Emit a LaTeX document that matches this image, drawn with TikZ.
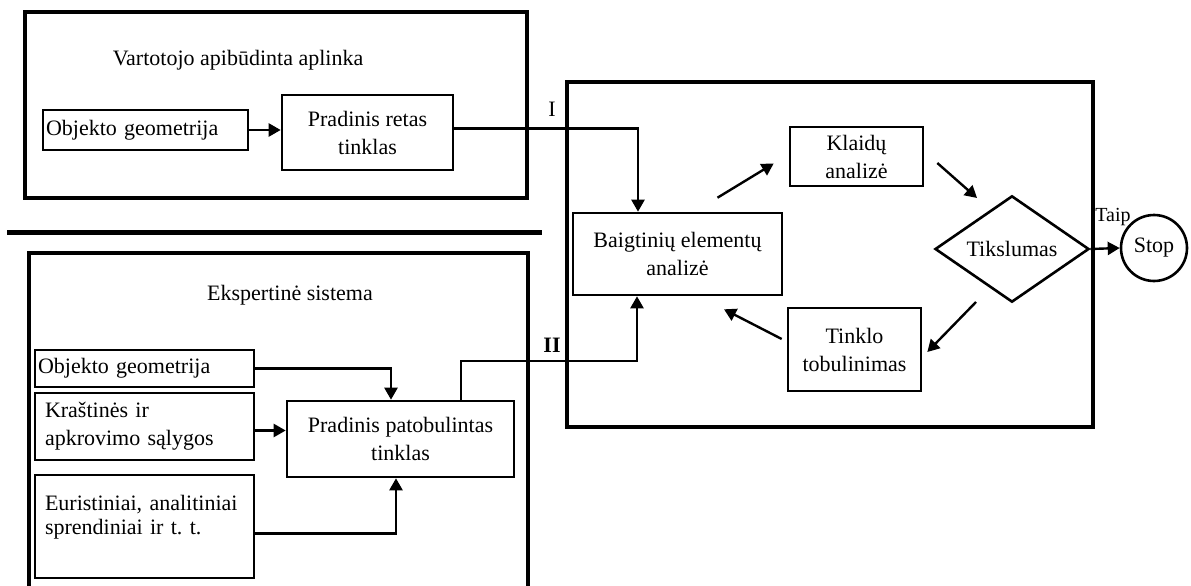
\documentclass[tikz,border=0pt]{standalone}
\usepackage{fontspec}
\setmainfont{Liberation Serif}
\usetikzlibrary{arrows.meta,shapes.geometric}

\begin{document}
\begin{tikzpicture}[x=1pt,y=-1pt,
        font=\fontsize{22}{28}\selectfont,
        box/.style={draw,line width=2.6pt,inner sep=3pt},
        frame/.style={line width=3.2pt},
        conn/.style={line width=2.4pt,-{Triangle[length=12pt,width=13pt]}}]
    \useasboundingbox (0,0) rectangle (1191,586);
    \draw[frame] (25,12) rectangle (527,198);
    \draw[line width=5pt] (7,232) -- (542,232);
    \draw[frame] (29,586) -- (29,253) -- (528,253) -- (528,586);
    \draw[frame] (567,82) rectangle (1093,427);
    \node (env) at (238,60) {Vartotojo apibūdinta aplinka};
    \node[box,text width=199pt,minimum height=40pt,align=left] (geomA) at (145.5,130) {Objekto geometrija};
    \node[box,minimum width=171pt,minimum height=75pt,align=center] (sparse) at (367.5,132.5) {Pradinis retas\\tinklas};
    \node (expert) at (290,295) {Ekspertinė sistema};
    \node[box,text width=213pt,minimum height=37pt,align=left] (geomB) at (144.5,368.5) {Objekto geometrija};
    \node[box,inner xsep=10pt,text width=199pt,minimum height=67pt,align=left] (bound) at (144.5,426.5) {Kraštinės ir\\apkrovimo sąlygos};
    \node[box,inner xsep=10pt,text width=199pt,minimum height=103pt,align=left,font=\fontsize{22}{24}\selectfont] (heur) at (144.5,526.5) {Euristiniai, analitiniai\\sprendiniai ir t.\ t.\\\mbox{}};
    \node[box,minimum width=227pt,minimum height=76pt,align=center] (refined) at (400.5,439) {Pradinis patobulintas\\tinklas};
    \node[box,minimum width=209pt,minimum height=82pt,align=center] (fea) at (677.5,254) {Baigtinių elementų\\analizė};
    \node[box,minimum width=133pt,minimum height=59pt,align=center] (err) at (856.5,156.5) {Klaidų\\analizė};
    \node[box,minimum width=133pt,minimum height=83pt,align=center] (refine) at (854.5,349.5) {Tinklo\\tobulinimas};
    \node[draw,diamond,line width=2.6pt,minimum width=154pt,minimum height=103pt,inner sep=0pt] (acc) at (1012,249) {Tikslumas};
    \node[draw,circle,line width=2.6pt,minimum size=66pt,inner sep=0pt] (stop) at (1154,248) {Stop};
    \node (labI) at (552,109) {I};
    \node (labII) at (552,345) {\textbf{II}};
    \node[font=\fontsize{20}{22}\selectfont] (labTaip) at (1113,217) {Taip};
    \draw[conn] (geomA.east) -- (geomA.east -| sparse.west);
    \draw[conn] ([yshift=4pt]sparse.east) -| ([xshift=-39.5pt]fea.north);
    \draw[conn] (geomB.east) -| ([xshift=-9.5pt]refined.north);
    \draw[conn] ([yshift=-4pt]bound.east) -- ([yshift=-4pt]bound.east -| refined.west);
    \draw[conn] ([yshift=-7pt]heur.east) -| ([xshift=-4.5pt]refined.south);
    \draw[conn] ([xshift=60.5pt]refined.north) -- ++(0,-39) -| ([xshift=-40.5pt]fea.south);
    \draw[conn] ([shift={(40pt,14pt)}]fea.north) -- ([shift={(-15pt,-7pt)}]err.west);
    \draw[conn] ([shift={(13pt,-6.5pt)}]err.east) -- ([shift={(-35pt,51pt)}]acc.center);
    \draw[conn] ([shift={(-36pt,-53pt)}]acc.center) -- ([shift={(5pt,-2.5pt)}]refine.east);
    \draw[conn] ([shift={(-5pt,10.5pt)}]refine.west) -- ([shift={(46.5pt,-13pt)}]fea.south);
    \draw[conn] (acc.east) -- (stop.west);
\end{tikzpicture}
\end{document}
